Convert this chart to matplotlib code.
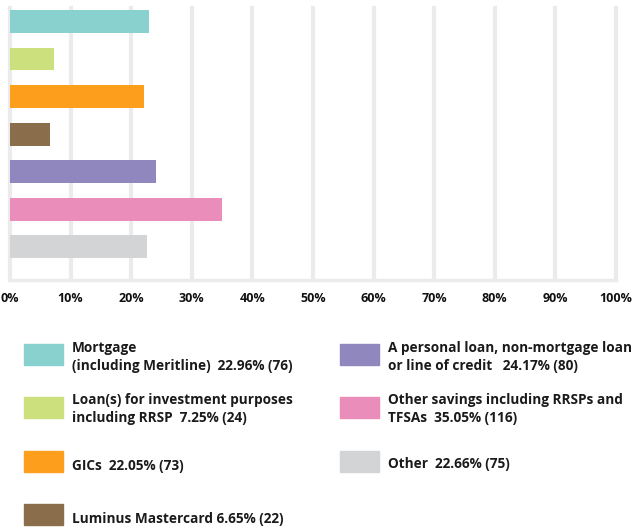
import matplotlib.pyplot as plt
from matplotlib.patches import Rectangle

# account types held by members, share of respondents
categories = [
    "Mortgage\n(including Meritline)",
    "Loan(s) for investment purposes\nincluding RRSP",
    "GICs",
    "Luminus Mastercard",
    "A personal loan, non-mortgage loan\nor line of credit",
    "Other savings including RRSPs and\nTFSAs",
    "Other",
]
percents = [22.96, 7.25, 22.05, 6.65, 24.17, 35.05, 22.66]
counts = [76, 24, 73, 22, 80, 116, 75]
colors = ["#88d1cf", "#cde07e", "#fd9e1c", "#8a6d4b", "#8f87bd", "#ea8dba", "#d3d4d6"]
gaps = ["  ", "  ", "  ", " ", "   ", "  ", "  "]
ticks = list(range(0, 101, 10))

plt.rcParams['font.family'] = ['Open Sans', 'DejaVu Sans']

W, H = 632, 527
fig = plt.figure(figsize=(W / 100, H / 100), dpi=100)
ax = fig.add_axes([10 / W, 1 - 280 / H, 606 / W, 272 / H])

ypos = list(range(len(categories)))
ax.barh(ypos, percents, height=0.61, color=colors, zorder=3)
ax.set_xlim(0, 100)
ax.set_ylim(6.89, -0.36)
ax.set_yticks([])
ax.set_xticks(ticks)
ax.set_xticklabels([f"{t}%" for t in ticks], fontsize=9, fontweight='bold', color='#111111')
ax.tick_params(axis='x', length=0, pad=9)
ax.grid(axis='x', color='#ebebeb', linewidth=3, zorder=0)
for line in ax.get_xgridlines():
    line.set_clip_on(False)
for side in ['top', 'right', 'left']:
    ax.spines[side].set_visible(False)
ax.spines['bottom'].set_color('#ebebeb')
ax.spines['bottom'].set_linewidth(2.5)

# hand-placed legend in two columns (pixel coordinates from the top-left)
legend_rows = [(24, 344, 0), (24, 397, 1), (24, 451, 2), (24, 504, 3),
               (340, 344, 4), (340, 397, 5), (340, 451, 6)]
text_offset = [3, 2, 14, 14, 3, 2, 12]
for (bx, by, i), off in zip(legend_rows, text_offset):
    fig.patches.append(Rectangle((bx / W, 1 - (by + 21) / H), 39 / W, 21 / H,
                                 transform=fig.transFigure, color=colors[i]))
    label = f"{categories[i]}{gaps[i]}{percents[i]:.2f}% ({counts[i]})"
    fig.text((bx + 48) / W, 1 - (by + off - 6) / H, label, fontsize=9.8,
             fontweight='bold', color='#1a1a1a', va='top', linespacing=1.4)

fig.savefig("out.png", dpi=100)
